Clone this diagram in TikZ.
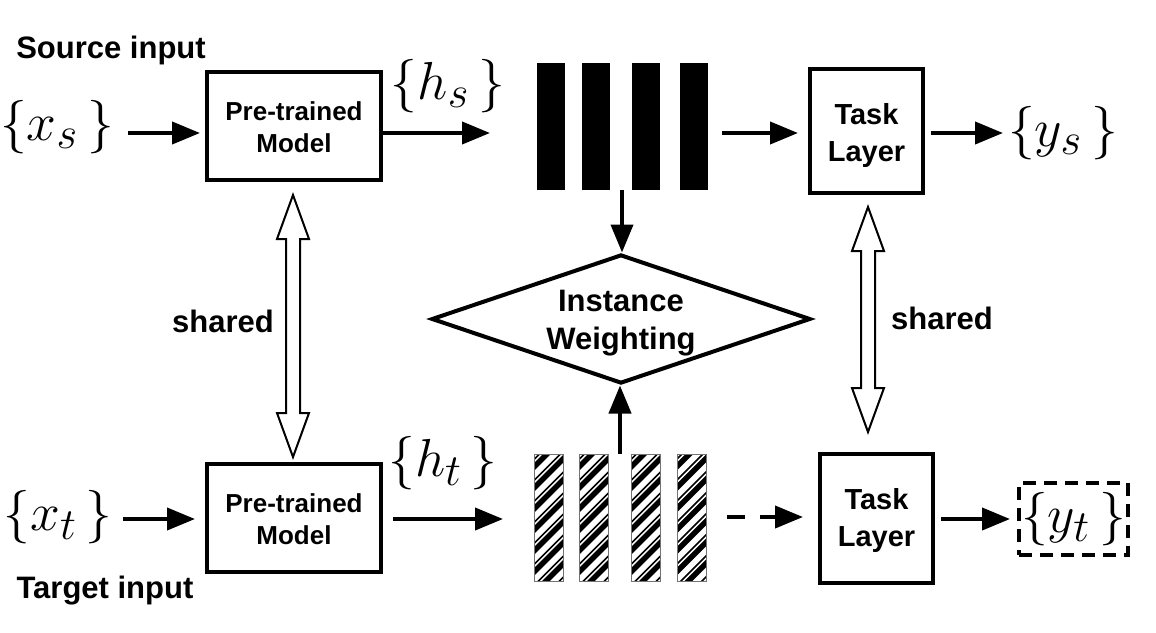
\documentclass[tikz,border=0pt]{standalone}
\usepackage{fontspec}
\setmainfont{Liberation Sans}
\usetikzlibrary{arrows.meta,shapes.geometric,calc}
\newcommand\mydblarrow[3]{%
  \draw[dbl] (#1,#2) -- ({#1+16},{#2+44}) -- ({#1+7},{#2+44}) -- ({#1+7},{#3-44})
    -- ({#1+16},{#3-44}) -- (#1,#3) -- ({#1-16},{#3-44}) -- ({#1-7},{#3-44})
    -- ({#1-7},{#2+44}) -- ({#1-16},{#2+44}) -- cycle;}
\newcommand\mybigmath[1]{\scalebox{2.15}{\fontsize{24.88}{30}\selectfont$#1$}}
\begin{document}
\begin{tikzpicture}[x=1pt,y=-1pt,
  arr/.style={line width=4pt,-{Triangle[length=28pt,width=22pt]}},
  box/.style={draw,line width=4pt,inner sep=0pt},
  boxtxt/.style={align=center,inner sep=0pt,font=\fontsize{26}{32}\selectfont\bfseries},
  tboxtxt/.style={align=center,inner sep=0pt,font=\fontsize{29}{37}\selectfont\bfseries},
  lbl/.style={font=\fontsize{31}{36}\selectfont\bfseries,inner sep=0pt},
  mth/.style={inner sep=0pt},
  sbar/.style={fill=black,minimum width=28pt,minimum height=127pt,inner sep=0pt},
  hbar/.style={draw=black!55,line width=1pt,minimum width=29pt,minimum height=127pt,inner sep=0pt,
    path picture={
      \foreach \k in {-10,...,10}{
        \draw[black,line width=5.5pt] ($(path picture bounding box.center)+(-45pt,\k*21pt)$) -- ++(90pt,90pt);
        \draw[black,line width=1.6pt] ($(path picture bounding box.center)+(-45pt,\k*21pt+7.5pt)$) -- ++(90pt,90pt);
      }
    }},
  dbl/.style={draw,line width=2pt,fill=white,line join=miter}
]
\useasboundingbox (0,0) rectangle (1156,632);

% labels
\node[lbl] (src) at (111,50) {Source input};
\node[lbl] (tgt) at (105,591) {Target input};
\node[lbl] (sh1) at (223,321) {shared};
\node[lbl] (sh2) at (942,318) {shared};

% math
\node[mth] (xs) at (57,127) {\mybigmath{\{x_s\,\}}};
\node[mth] (xt) at (58,517) {\mybigmath{\{x_t\,\}}};
\node[mth] (hs) at (448,86) {\mybigmath{\{h_s\,\}}};
\node[mth] (ht) at (443,463) {\mybigmath{\{h_t\,\}}};
\node[mth] (ys) at (1063,133) {\mybigmath{\{y_s\,\}}};
\node[draw,line width=4pt,dash pattern=on 13pt off 8pt,minimum width=109pt,minimum height=72pt,inner sep=0pt] (ytbox) at (1073.5,519) {};
\node[mth] (yt) at (ytbox.center) {\mybigmath{\{y_t\,\}}};

% boxes
\node[box,minimum width=174pt,minimum height=108pt] (ptm1) at (294,126) {};
\node[boxtxt] (ptm1t) at ([yshift=-1pt]ptm1.center) {Pre-trained\\Model};
\node[box,minimum width=174pt,minimum height=108pt] (ptm2) at (294,518) {};
\node[boxtxt] (ptm2t) at ([yshift=-1pt]ptm2.center) {Pre-trained\\Model};
\node[box,minimum width=113pt,minimum height=124pt] (task1) at (866.5,131) {};
\node[tboxtxt] (task1t) at ([yshift=-4pt]task1.center) {Task\\Layer};
\node[box,minimum width=113pt,minimum height=129pt] (task2) at (876.5,518.5) {};
\node[tboxtxt] (task2t) at ([yshift=-2pt]task2.center) {Task\\Layer};

% bars
\node[sbar] (s1) at (551,126.5) {};
\node[sbar] (s2) at (596,126.5) {};
\node[sbar] (s3) at (646,126.5) {};
\node[sbar] (s4) at (693.5,126.5) {};
\node[hbar] (t1) at (549,518) {};
\node[hbar] (t2) at (594,518) {};
\node[hbar] (t3) at (646,518) {};
\node[hbar] (t4) at (691.5,518) {};

% diamond
\node[diamond,draw,line width=4pt,minimum width=379pt,minimum height=129pt,shape aspect=2.94,inner sep=0pt] (iw) at (621,319) {};
\node[align=center,inner sep=0pt,font=\fontsize{31}{38}\selectfont\bfseries] (iwt) at ([yshift=-4pt]iw.center) {Instance\\Weighting};

% rows
\coordinate (r1) at (0,133);
\coordinate (r2) at (0,519);

\draw[arr] (128,133) coordinate (a1) -- (200,133) coordinate (a1e);
\draw[arr] (ptm1.east |- r1) -- (490,133) coordinate (a2e);
\draw[arr] (722,133) coordinate (a3) -- (798,133) coordinate (a3e);
\draw[arr] (task1.east |- r1) ++(6,0) -- (1003,133) coordinate (a4e);

\draw[arr] (123,519) coordinate (b1) -- (195,519) coordinate (b1e);
\draw[arr] (ptm2.east |- r2) ++(10,0) -- (503,519) coordinate (b2e);
\draw[line width=4pt,dash pattern=on 18pt off 15pt] (727,517) coordinate (b3) -- (773,517) coordinate (b3m);
\draw[arr] (771,517) -- (803,517) coordinate (b3e);
\draw[arr] (task2.east |- r2) ++(6,0) -- (1010,519) coordinate (b4e);

% vertical arrows into diamond
\draw[arr] (iw.north |- s1.south) ++(1,0) -- ([xshift=1pt]iw.north);
\draw[arr] (iw.south |- t1.north) ++(-1,0) -- ([xshift=-1pt]iw.south);

% shared double arrows
\mydblarrow{293}{195}{457}
\mydblarrow{868}{207}{432}
\end{tikzpicture}
\end{document}
